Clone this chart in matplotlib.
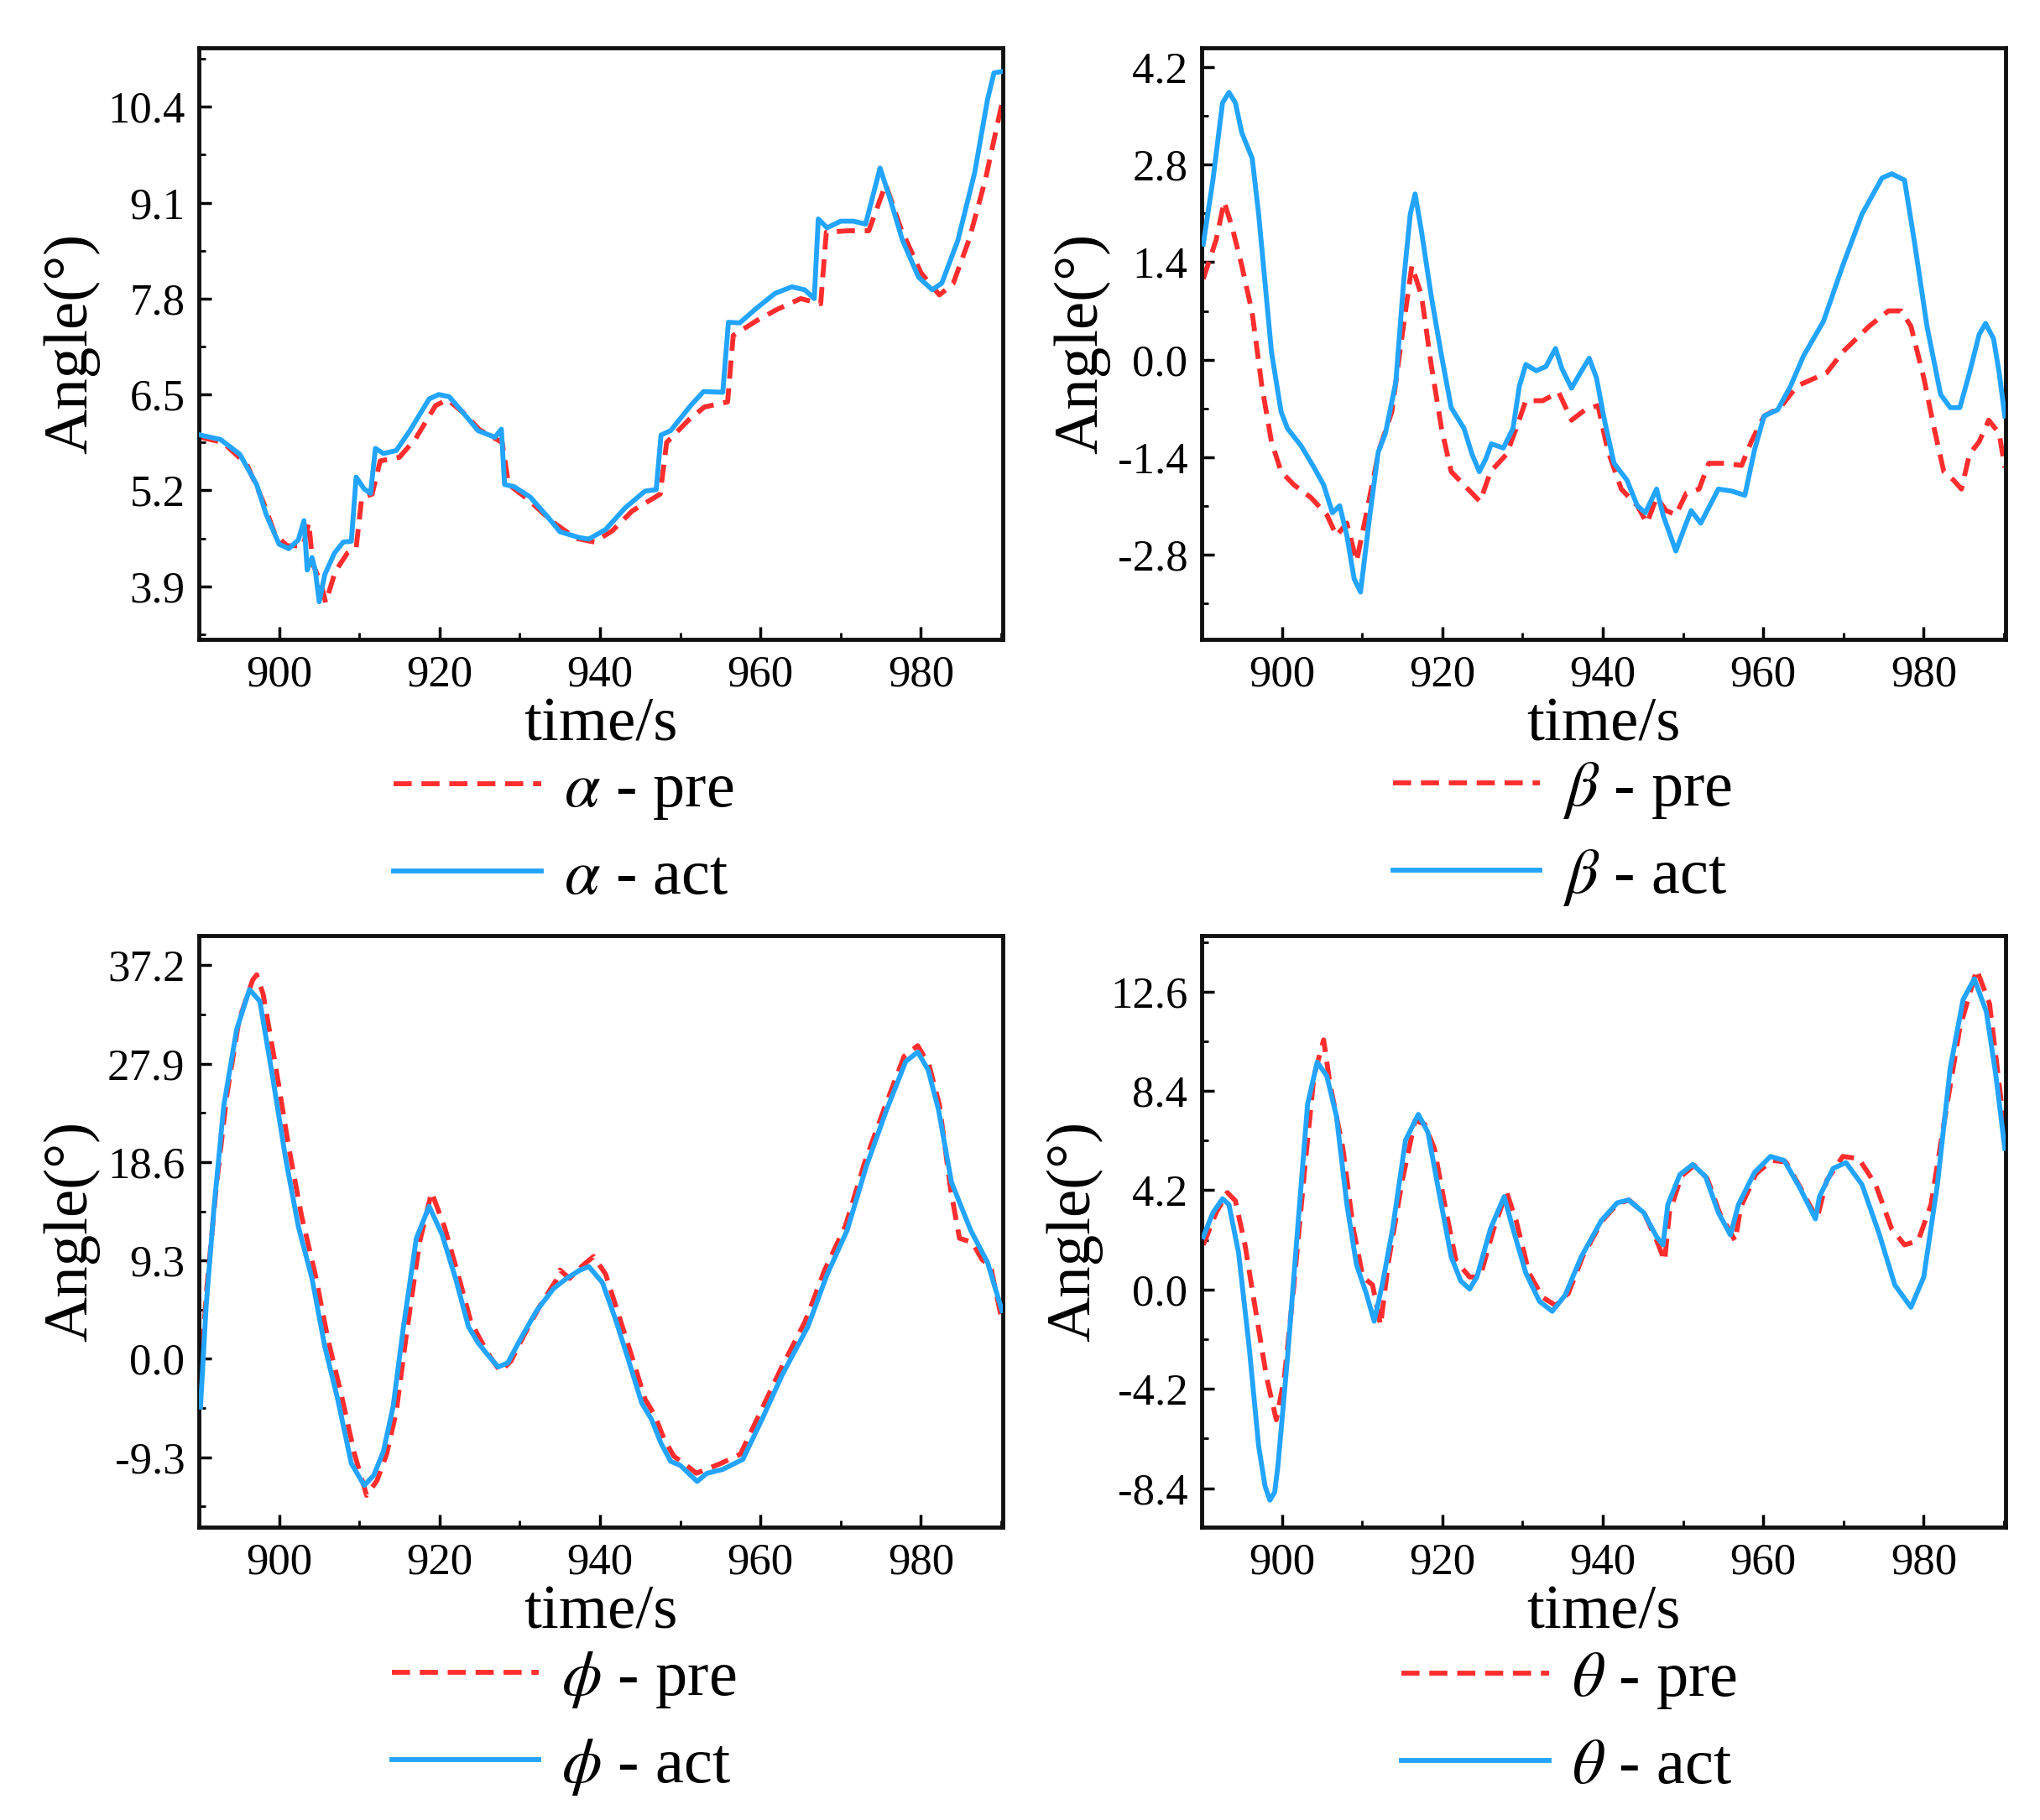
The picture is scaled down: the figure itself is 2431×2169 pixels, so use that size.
import matplotlib
matplotlib.use("Agg")
import matplotlib.pyplot as plt
from matplotlib.ticker import AutoMinorLocator

plt.rcParams['font.family'] = ['Liberation Serif', 'DejaVu Serif']
plt.rcParams['mathtext.fontset'] = 'stix'

# ---------------- data ----------------
alpha_act_t = [890.2, 892.7, 895.1, 897.2, 898.4, 900.0, 901.2, 902.4, 903.1, 903.5, 904.1, 904.5, 905.0, 905.7,
               906.9, 908.0, 909.0, 909.6, 910.6, 911.4, 912.0, 913.0, 914.6, 916.3, 918.7, 919.9, 921.2, 922.8,
               924.8, 926.9, 927.7, 928.1, 929.3, 931.3, 933.4, 935.0, 937.4, 938.6, 940.7, 943.1, 945.6, 947.0,
               947.6, 948.8, 951.3, 952.9, 955.3, 956.0, 957.4, 959.4, 961.8, 963.9, 965.5, 966.7, 967.2, 968.3,
               970.0, 971.6, 973.1, 974.9, 976.1, 977.7, 979.7, 981.4, 982.6, 984.6, 986.7, 988.3, 989.1, 990.2]
alpha_act_v = [5.95, 5.89, 5.69, 5.28, 4.87, 4.47, 4.41, 4.53, 4.79, 4.12, 4.29, 4.12, 3.69, 4.06,
               4.35, 4.50, 4.51, 5.38, 5.22, 5.16, 5.77, 5.70, 5.74, 6.01, 6.44, 6.50, 6.47, 6.27,
               6.01, 5.92, 6.03, 5.28, 5.25, 5.11, 4.85, 4.64, 4.56, 4.54, 4.67, 4.96, 5.19, 5.21,
               5.95, 6.01, 6.35, 6.54, 6.53, 7.48, 7.47, 7.66, 7.87, 7.96, 7.92, 7.80, 8.88, 8.76,
               8.85, 8.85, 8.81, 9.57, 9.17, 8.59, 8.09, 7.92, 8.01, 8.59, 9.51, 10.50, 10.86, 10.88]
alpha_pre_t = [890.2, 893.0, 896.0, 898.0, 899.5, 901.0, 903.0, 903.7, 904.2, 905.2, 905.8, 907.0, 908.5,
               909.6, 910.3, 911.6, 912.6, 915.0, 917.0, 919.5, 921.0, 923.0, 925.0, 927.8, 928.6, 931.0,
               934.0, 937.0, 939.3, 941.5, 944.0, 947.5, 948.3, 951.0, 953.0, 955.9, 956.6, 959.5, 962.0,
               965.0, 967.5, 968.2, 971.0, 973.5, 975.6, 977.5, 980.0, 982.3, 984.0, 986.0, 988.0, 990.2]
alpha_pre_v = [5.92, 5.85, 5.55, 5.05, 4.60, 4.45, 4.45, 4.76, 4.20, 3.95, 3.68, 4.10, 4.35,
               4.42, 5.10, 5.15, 5.60, 5.65, 5.90, 6.35, 6.43, 6.25, 6.02, 5.85, 5.28, 5.08,
               4.78, 4.55, 4.50, 4.65, 4.92, 5.15, 5.85, 6.15, 6.33, 6.40, 7.30, 7.50, 7.65,
               7.80, 7.73, 8.70, 8.72, 8.72, 9.35, 8.75, 8.15, 7.85, 8.00, 8.60, 9.40, 10.50]

beta_act_t = [890.2, 891.4, 892.6, 893.4, 894.2, 895.0, 896.3, 897.1, 897.9, 898.7, 899.9, 900.7, 902.4, 904.0,
              905.2, 906.3, 907.2, 908.1, 909.0, 909.8, 910.9, 912.0, 912.9, 914.2, 915.2, 916.0, 916.6, 917.4,
              918.6, 919.9, 921.1, 922.7, 923.7, 924.6, 925.4, 926.1, 927.6, 928.8, 929.6, 930.4, 931.7, 932.9,
              934.1, 934.9, 936.1, 937.2, 938.3, 939.2, 940.2, 941.4, 943.0, 944.3, 945.3, 946.7, 947.5, 949.1,
              950.0, 951.0, 952.2, 954.4, 956.1, 957.7, 958.9, 960.1, 961.8, 963.4, 965.0, 967.5, 969.9, 972.3,
              974.8, 976.0, 977.6, 978.8, 980.4, 982.1, 983.3, 984.5, 985.7, 986.9, 987.7, 988.7, 989.4, 990.1]
beta_act_v = [1.66, 2.58, 3.69, 3.84, 3.69, 3.26, 2.89, 2.09, 1.10, 0.11, -0.75, -0.99, -1.24, -1.55,
              -1.80, -2.20, -2.10, -2.53, -3.15, -3.34, -2.29, -1.33, -1.06, -0.32, 1.16, 2.09, 2.38, 1.84,
              0.92, 0.05, -0.69, -0.99, -1.36, -1.61, -1.43, -1.21, -1.27, -0.99, -0.38, -0.07, -0.16, -0.10,
              0.16, -0.13, -0.41, -0.19, 0.02, -0.26, -0.87, -1.49, -1.73, -2.10, -2.20, -1.86, -2.23, -2.75,
              -2.47, -2.17, -2.35, -1.86, -1.89, -1.95, -1.30, -0.81, -0.72, -0.38, 0.05, 0.55, 1.35, 2.09,
              2.61, 2.67, 2.58, 1.72, 0.48, -0.50, -0.69, -0.69, -0.19, 0.36, 0.52, 0.30, -0.19, -0.81]
beta_pre_t = [890.2, 891.8, 892.8, 893.8, 895.0, 896.3, 897.5, 898.7, 899.9, 901.5, 903.6, 905.6, 906.8,
              908.1, 909.3, 910.5, 912.1, 913.7, 915.0, 916.2, 917.4, 918.6, 919.9, 921.1, 922.7, 924.7,
              926.0, 928.0, 929.2, 930.4, 932.5, 934.5, 936.1, 937.8, 939.4, 940.6, 942.3, 944.3, 945.5,
              946.7, 947.9, 949.1, 950.4, 952.0, 953.2, 955.2, 957.3, 958.5, 960.1, 962.1, 964.2, 967.9,
              969.9, 973.2, 975.6, 977.2, 978.4, 980.0, 981.3, 982.5, 983.7, 984.7, 985.7, 986.9, 988.1,
              989.4, 990.1]
beta_pre_v = [1.16, 1.72, 2.27, 1.90, 1.35, 0.67, -0.38, -1.18, -1.61, -1.80, -1.98, -2.23, -2.53,
              -2.35, -2.90, -2.23, -1.30, -0.75, 0.36, 1.35, 0.92, -0.07, -0.99, -1.61, -1.80, -2.04,
              -1.61, -1.36, -0.99, -0.59, -0.59, -0.47, -0.87, -0.72, -0.66, -1.30, -1.86, -2.10, -2.35,
              -1.98, -2.17, -2.23, -1.92, -1.86, -1.49, -1.49, -1.52, -1.18, -0.81, -0.69, -0.38, -0.19,
              0.11, 0.48, 0.70, 0.70, 0.48, -0.26, -0.99, -1.61, -1.73, -1.86, -1.36, -1.18, -0.87,
              -1.06, -1.55]

phi_act_t = [890.2, 890.9, 891.9, 893.1, 894.7, 896.3, 897.6, 899.2, 900.8, 902.4, 904.1, 905.7, 907.3, 909.0,
             910.6, 911.8, 913.0, 914.2, 915.5, 917.1, 918.7, 920.3, 922.0, 923.6, 924.8, 926.0, 927.3, 928.5,
             930.1, 932.1, 934.2, 935.8, 937.4, 938.6, 940.3, 941.9, 943.5, 945.2, 946.4, 947.6, 948.8, 950.0,
             952.1, 953.3, 955.3, 957.8, 960.2, 962.7, 965.9, 968.3, 970.8, 973.2, 975.7, 978.1, 979.6, 980.9,
             982.2, 983.8, 986.2, 988.3, 990.1]
phi_act_v = [-4.55, 4.94, 14.42, 23.90, 31.10, 34.90, 33.80, 26.60, 19.00, 12.50, 7.60, 1.14, -3.80, -9.87,
             -11.96, -11.00, -8.73, -4.55, 3.04, 11.39, 14.42, 11.77, 7.59, 3.04, 1.52, 0.38, -0.76, -0.38,
             1.90, 4.56, 6.64, 7.59, 8.35, 8.73, 7.21, 3.80, 0.00, -4.18, -5.69, -7.97, -9.68, -10.06,
             -11.58, -10.82, -10.44, -9.49, -5.69, -1.52, 3.04, 7.97, 12.15, 18.22, 23.50, 28.10, 29.00, 27.30,
             23.50, 16.70, 12.15, 9.11, 4.56]
phi_pre_t = [890.2, 891.0, 892.2, 893.5, 895.0, 896.7, 897.2, 898.0, 899.6, 901.2, 902.8, 904.5, 906.1, 907.7,
             909.4, 910.9, 912.2, 913.4, 914.6, 915.9, 917.5, 919.0, 920.6, 922.3, 923.9, 925.1, 926.3, 927.6,
             928.9, 930.5, 932.5, 934.5, 935.0, 936.2, 937.8, 939.2, 940.7, 942.3, 943.9, 945.6, 946.8, 948.0,
             949.2, 950.5, 952.0, 953.0, 955.0, 957.5, 960.0, 962.5, 965.6, 968.0, 970.6, 973.0, 975.5, 977.9,
             979.6, 981.0, 982.3, 983.7, 984.8, 986.4, 987.6, 988.7, 990.1]
phi_pre_v = [-1.50, 6.80, 16.50, 25.00, 32.00, 35.80, 36.30, 34.50, 27.50, 20.00, 13.50, 8.00, 1.80, -3.20,
             -9.00, -12.90, -11.50, -9.00, -5.00, 2.50, 11.00, 15.75, 12.50, 8.00, 3.50, 1.80, 0.20, -1.20,
             -0.20, 2.20, 5.00, 7.40, 8.40, 7.60, 8.80, 9.68, 8.00, 4.20, 0.40, -3.80, -5.30, -7.60,
             -9.20, -9.90, -10.80, -10.50, -9.90, -9.00, -5.00, -1.00, 3.60, 8.40, 12.60, 18.60, 23.80, 28.60,
             29.60, 27.80, 24.00, 16.00, 11.40, 11.00, 9.40, 8.70, 3.60]

theta_act_t = [890.2, 891.4, 892.6, 893.4, 894.6, 895.9, 897.1, 897.9, 898.5, 899.1, 899.5, 900.7, 902.0, 903.2,
               904.4, 905.6, 906.8, 908.1, 909.3, 910.5, 911.5, 912.5, 913.8, 915.4, 917.0, 918.2, 919.4, 921.1,
               922.3, 923.4, 924.3, 926.0, 927.7, 928.8, 930.4, 932.1, 933.7, 935.3, 937.3, 939.8, 941.8, 943.2,
               945.1, 946.7, 947.5, 948.1, 949.6, 951.2, 952.8, 954.4, 955.9, 956.9, 958.9, 960.9, 962.6, 964.6,
               966.5, 967.0, 968.7, 970.3, 972.3, 974.4, 976.4, 978.4, 980.0, 981.7, 983.3, 984.9, 986.3, 987.8,
               989.0, 990.1]
theta_act_v = [2.23, 3.25, 3.84, 3.59, 1.55, -2.37, -6.62, -8.32, -8.91, -8.57, -7.47, -2.87, 2.74, 7.84,
               9.62, 9.03, 7.33, 3.59, 1.04, -0.15, -1.34, 0.19, 2.57, 6.31, 7.41, 6.65, 4.44, 1.38,
               0.36, 0.02, 0.53, 2.57, 3.93, 2.57, 0.70, -0.50, -0.92, -0.24, 1.38, 2.91, 3.67, 3.79,
               3.25, 2.23, 1.89, 3.59, 4.86, 5.29, 4.78, 3.25, 2.31, 3.59, 4.95, 5.63, 5.46, 4.27,
               2.99, 3.93, 5.12, 5.37, 4.44, 2.40, 0.19, -0.75, 0.53, 4.44, 9.37, 12.26, 13.14, 11.75,
               9.03, 5.97]
theta_pre_t = [890.2, 891.8, 893.2, 894.2, 895.4, 896.7, 898.1, 899.3, 900.3, 901.5, 902.8, 904.0, 905.2, 906.0,
               907.6, 908.9, 910.1, 911.3, 912.3, 913.3, 915.0, 916.6, 917.8, 919.0, 920.3, 921.7, 923.4, 924.7,
               926.4, 928.0, 929.2, 930.8, 932.5, 934.1, 935.7, 937.5, 939.9, 941.9, 943.3, 945.2, 946.8,
               947.7, 948.3, 949.8, 951.4, 953.0, 954.6, 956.5, 957.2, 959.1, 961.1, 962.8, 964.8, 966.7,
               967.9, 969.9, 971.9, 974.0, 976.0, 977.6, 979.3, 980.9, 982.5, 984.5, 986.6, 988.2, 989.4, 990.1]
theta_pre_v = [1.89, 3.25, 4.10, 3.76, 1.89, -0.84, -3.73, -5.51, -3.73, 0.19, 4.95, 9.03, 10.56, 8.69,
               5.97, 2.57, 0.53, 0.19, -1.51, 1.21, 4.61, 7.16, 6.99, 5.97, 3.59, 1.21, 0.53, 0.53,
               2.57, 4.13, 2.91, 0.70, -0.33, -0.67, -0.16, 1.40, 2.90, 3.65, 3.78, 3.20, 2.00,
               1.21, 3.25, 4.80, 5.25, 4.70, 3.20, 2.06, 3.50, 4.90, 5.46, 5.40, 4.20, 2.99,
               4.61, 5.63, 5.54, 4.44, 2.57, 1.89, 2.06, 3.59, 6.99, 11.07, 13.53, 12.09, 8.69, 6.65]

x_ticks = [900, 920, 940, 960, 980]
alpha_ticks = [3.9, 5.2, 6.5, 7.8, 9.1, 10.4]
beta_ticks = [-2.8, -1.4, 0.0, 1.4, 2.8, 4.2]
phi_ticks = [-9.3, 0.0, 9.3, 18.6, 27.9, 37.2]
theta_ticks = [-8.4, -4.2, 0.0, 4.2, 8.4, 12.6]

symbols = [r'\alpha', r'\beta', r'\phi', r'\theta']

# ---------------- figure ----------------
W, H = 2431, 2169
fig = plt.figure(figsize=(W / 100, H / 100), dpi=100)

RED = '#FF2D2D'
BLUE = '#22A4FF'
LW = 4.2

panels = [
    (alpha_pre_t, alpha_pre_v, alpha_act_t, alpha_act_v, alpha_ticks, (3.18, 11.2)),
    (beta_pre_t, beta_pre_v, beta_act_t, beta_act_v, beta_ticks, (-4.02, 4.48)),
    (phi_pre_t, phi_pre_v, phi_act_t, phi_act_v, phi_ticks, (-15.9, 40.0)),
    (theta_pre_t, theta_pre_v, theta_act_t, theta_act_v, theta_ticks, (-10.05, 14.97)),
]

lefts = [237, 1432, 237, 1432]
tops = [57, 57, 1115, 1115]
aw, ah = 958, 705
leg_pos = [(672, 994), (1862, 994), (672, 2054), (1870, 2054)]

for i, (pt, pv, at, av, yt, yl) in enumerate(panels):
    ax = fig.add_axes([lefts[i] / W, 1 - (tops[i] + ah) / H, aw / W, ah / H])
    l1, = ax.plot(pt, pv, color=RED, lw=LW, dashes=(3.7, 2.0), zorder=2)
    l2, = ax.plot(at, av, color=BLUE, lw=LW, zorder=3)
    ax.set_xlim(890, 990.2)
    ax.set_ylim(*yl)
    ax.set_xticks(x_ticks)
    ax.set_yticks(yt)
    ax.set_yticklabels([f'{v:.1f}' for v in yt])
    ax.xaxis.set_minor_locator(AutoMinorLocator(2))
    ax.yaxis.set_minor_locator(AutoMinorLocator(2))
    ax.tick_params(axis='both', which='major', direction='in', length=11, width=2.5,
                   labelsize=38, top=False, right=False)
    ax.tick_params(axis='both', which='minor', direction='in', length=6, width=2.0,
                   top=False, right=False)
    ax.tick_params(axis='x', which='major', pad=13)
    ax.tick_params(axis='y', which='major', pad=12)
    for s in ax.spines.values():
        s.set_linewidth(3.5)
        s.set_color('#111111')
    ax.set_xlabel('time/s', fontsize=54, labelpad=2)
    ax.set_ylabel('Angle(°)', fontsize=54, labelpad=6)
    sym = symbols[i]
    lx, ly = leg_pos[i]
    fig.legend([l1, l2], [rf'${sym}$ - pre', rf'${sym}$ - act'],
               loc='center', bbox_to_anchor=(lx / W, 1 - ly / H),
               frameon=False, fontsize=55, handlelength=2.3, handletextpad=0.35,
               labelspacing=0.42, borderpad=0.0)

fig.savefig('out.png', dpi=100)
